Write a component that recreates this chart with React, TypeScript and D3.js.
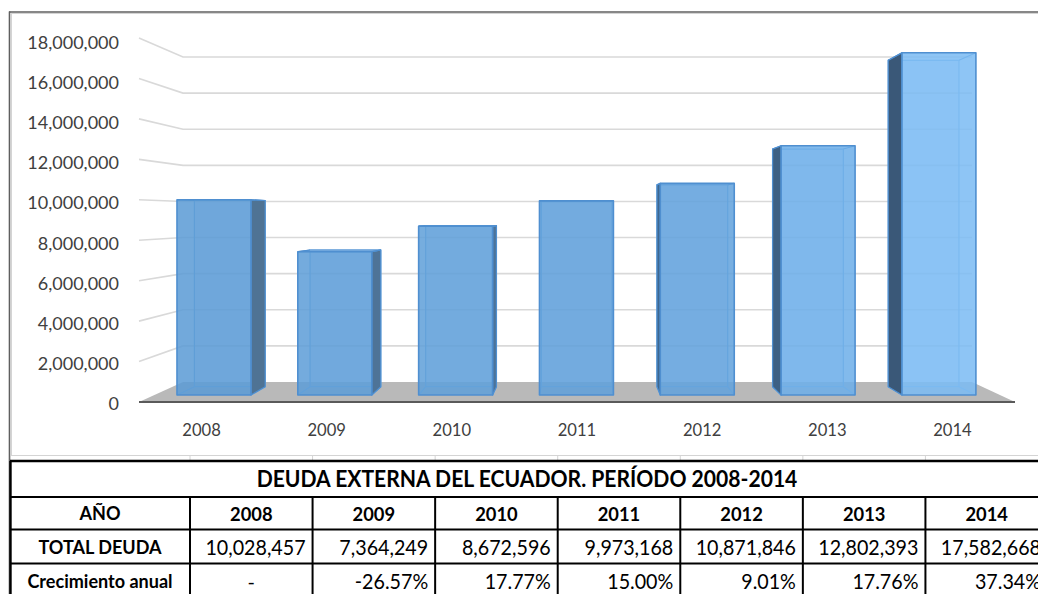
import React from 'react';
import * as d3 from 'd3';

// ---------- data ----------
const years = ['2008', '2009', '2010', '2011', '2012', '2013', '2014'];
const totalDeuda = [10028457, 7364249, 8672596, 9973168, 10871846, 12802393, 17582668];
const crecimiento: (number | null)[] = [null, -0.2657, 0.1777, 0.15, 0.0901, 0.1776, 0.3734];
const yTicks = [0, 2000000, 4000000, 6000000, 8000000, 10000000, 12000000, 14000000, 16000000, 18000000];
const tableTitle = 'DEUDA EXTERNA DEL ECUADOR. PERÍODO 2008-2014';
const rowLabels = ['AÑO', 'TOTAL DEUDA', 'Crecimiento anual'];

const W = 1038;
const H = 594;
const FONT = 'Lato, "Open Sans", sans-serif';

// ---------- 3D-ish projection (front plane z=0, back wall z=1) ----------
const n = years.length;
const frontX = d3.scaleLinear().domain([0, n]).range([139, 1015]);
const backX = d3.scaleLinear().domain([0, n]).range([183, 972]);
const frontY = d3.scaleLinear().domain([0, 18000000]).range([402, 38]);
const backY = d3.scaleLinear().domain([0, 18000000]).range([382, 57]);
const labelY = d3.scaleLinear().domain([0, 18000000]).range([403, 42]);

const proj = (p: number, v: number, z: number): [number, number] => [
  frontX(p) * (1 - z) + backX(p) * z,
  frontY(v) * (1 - z) + backY(v) * z,
];
const pts = (arr: [number, number][]) => arr.map((q) => q.join(',')).join(' ');

const BAR_P0 = 0.188;
const BAR_P1 = 0.8;
const Z_FRONT = 0.347;
const Z_BACK = 0.765;

const frontColor = d3
  .scaleLinear<string>()
  .domain([0, 4, 5, 6])
  .range(['#5b9bd5', '#62a2dc', '#6dafe9', '#7cbbf3']);
const sideColor = d3
  .scaleLinear<string>()
  .domain([0, 2, 4, 6])
  .range(['#4f7394', '#4d7399', '#3f6890', '#3a5878']);

const locale = d3.formatLocale({
  decimal: '.',
  thousands: ',',
  grouping: [3],
  currency: ['$', ''],
  minus: '-',
});
const fmtNum = locale.format(',');
const fmtPct = locale.format('.2%');

// table geometry
const colX = d3.scaleLinear().domain([0, n]).range([190, 1048]);
const tableLeft = 10;
const rowEdges = [461, 497, 529.5, 563.5, 598];

function Bar({ i, v }: { i: number; v: number }) {
  const p0 = i + BAR_P0;
  const p1 = i + BAR_P1;
  const f = (p: number, val: number) => proj(p, val, Z_FRONT);
  const b = (p: number, val: number) => proj(p, val, Z_BACK);
  const fbl = f(p0, 0), fbr = f(p1, 0), ftl = f(p0, v), ftr = f(p1, v);
  const bbl = b(p0, 0), bbr = b(p1, 0), btl = b(p0, v), btr = b(p1, v);
  const center = (p0 + p1) / 2;
  const vanish = n / 2;
  const edge = '#4f8fd0';
  const hidden = '#76aee3';
  const sideFace: [number, number][] =
    center < vanish - 0.2
      ? [fbr, ftr, btr, bbr]
      : center > vanish + 0.2
      ? [fbl, ftl, btl, bbl]
      : [];
  const topVisible = btl[1] < ftl[1];
  return (
    <g>
      <polygon points={pts([bbl, bbr, btr, btl])} fill="#9cc5ec" fillOpacity={0.25} stroke={hidden} strokeWidth={1.2} />
      <line x1={fbl[0]} y1={fbl[1]} x2={bbl[0]} y2={bbl[1]} stroke={hidden} strokeWidth={1.2} />
      <line x1={fbr[0]} y1={fbr[1]} x2={bbr[0]} y2={bbr[1]} stroke={hidden} strokeWidth={1.2} />
      {sideFace.length > 0 && (
        <polygon points={pts(sideFace)} fill={sideColor(i)} stroke={edge} strokeWidth={1.2} strokeLinejoin="round" />
      )}
      {topVisible && (
        <polygon points={pts([ftl, ftr, btr, btl])} fill="#8fbde8" stroke={edge} strokeWidth={1} />
      )}
      <line x1={ftl[0]} y1={ftl[1]} x2={btl[0]} y2={btl[1]} stroke={edge} strokeWidth={1.2} />
      <line x1={ftr[0]} y1={ftr[1]} x2={btr[0]} y2={btr[1]} stroke={edge} strokeWidth={1.2} />
      <polygon
        points={pts([fbl, fbr, ftr, ftl])}
        fill={frontColor(i)}
        fillOpacity={0.86}
        stroke={edge}
        strokeWidth={1.6}
        strokeLinejoin="round"
      />
    </g>
  );
}

function SText({
  x, y, sx = 1, anchor = 'middle', size, weight = 400, fill = '#000', children,
}: {
  x: number; y: number; sx?: number; anchor?: string; size: number; weight?: number; fill?: string; children: React.ReactNode;
}) {
  return (
    <text
      transform={`translate(${x},${y}) scale(${sx},1)`}
      textAnchor={anchor as any}
      dominantBaseline="central"
      fontFamily={FONT}
      fontSize={size}
      fontWeight={weight}
      fill={fill}
    >
      {children}
    </text>
  );
}

export default function App() {
  const gridTicks = yTicks.filter((t) => t > 0);
  const floor = [proj(0, 0, 0), proj(n, 0, 0), proj(n, 0, 1), proj(0, 0, 1)];
  const rowMid = (r: number) => (rowEdges[r] + rowEdges[r + 1]) / 2;

  return (
    <svg
      width={W}
      height={H}
      viewBox={`0 0 ${W} ${H}`}
      style={{ position: 'absolute', left: 0, top: 0, background: '#fff' }}
    >
      <rect x={0} y={0} width={W} height={H} fill="#fff" />

      {/* chart frame */}
      <rect x={11.5} y={13.5} width={W + 10} height={442} fill="none" stroke="#d4d4d4" strokeWidth={1} />
      <line x1={9} y1={12} x2={W} y2={12} stroke="#5f5f5f" strokeWidth={1.6} />
      <line x1={9.5} y1={11.5} x2={9.5} y2={H} stroke="#5f5f5f" strokeWidth={1.6} />
      {d3.range(0, n + 1).map((j) => (
        <line key={'sg' + j} x1={colX(j)} y1={455.5} x2={colX(j)} y2={461} stroke="#d4d4d4" strokeWidth={1} />
      ))}

      {/* left wall & back wall gridlines */}
      {gridTicks.map((t) => {
        const a = proj(0, t, 0);
        const b = proj(0, t, 1);
        const c = proj(n, t, 1);
        return (
          <polyline key={'g' + t} points={pts([a, b, c])} fill="none" stroke="#d9d9d9" strokeWidth={1.6} />
        );
      })}

      {/* floor */}
      <polygon points={pts(floor)} fill="#b9b9b9" />
      <line x1={floor[0][0]} y1={floor[0][1]} x2={floor[1][0]} y2={floor[1][1]} stroke="#5a5a5a" strokeWidth={2} />

      {/* bars */}
      {totalDeuda.map((v, i) => (
        <Bar key={years[i]} i={i} v={v} />
      ))}

      {/* y axis labels */}
      {yTicks.map((t) => (
        <SText key={'yl' + t} x={119} y={labelY(t)} anchor="end" size={18} sx={1} fill="#404040">
          {fmtNum(t)}
        </SText>
      ))}

      {/* x axis labels */}
      {years.map((yr, i) => (
        <SText key={'xl' + yr} x={frontX(i + 0.5)} y={429} size={17.5} sx={0.95} fill="#404040">
          {yr}
        </SText>
      ))}

      {/* ---------- table ---------- */}
      <rect x={tableLeft} y={rowEdges[0]} width={W} height={H} fill="#fff" />
      {rowEdges.slice(0, 4).map((y, r) => (
        <line key={'rl' + r} x1={tableLeft} y1={y} x2={W + 10} y2={y} stroke="#000" strokeWidth={r === 0 ? 2.6 : 2} />
      ))}
      <line x1={tableLeft + 0.5} y1={rowEdges[0]} x2={tableLeft + 0.5} y2={H} stroke="#000" strokeWidth={2.4} />
      {d3.range(0, n + 1).map((j) => (
        <line key={'cl' + j} x1={colX(j)} y1={rowEdges[1]} x2={colX(j)} y2={H} stroke="#000" strokeWidth={2} />
      ))}

      <SText x={527} y={rowMid(0)} size={22} weight={700} sx={0.96}>
        {tableTitle}
      </SText>

      {rowLabels.map((lab, r) => (
        <SText key={'lab' + r} x={(tableLeft + colX(0)) / 2} y={rowMid(r + 1)} size={19} weight={700} sx={0.95}>
          {lab}
        </SText>
      ))}

      {years.map((yr, j) => (
        <SText key={'hy' + yr} x={(colX(j) + colX(j + 1)) / 2} y={rowMid(1)} size={19.5} weight={700} sx={0.94}>
          {yr}
        </SText>
      ))}

      {totalDeuda.map((v, j) => (
        <SText key={'tv' + j} x={colX(j + 1) - 7} y={rowMid(2)} anchor="end" size={20.5} sx={0.96}>
          {fmtNum(v)}
        </SText>
      ))}

      {crecimiento.map((c, j) =>
        c === null ? (
          <SText key={'cv' + j} x={(colX(j) + colX(j + 1)) / 2} y={rowMid(3)} size={20}>
            -
          </SText>
        ) : (
          <SText key={'cv' + j} x={colX(j + 1) - 7} y={rowMid(3)} anchor="end" size={20.5} sx={0.96}>
            {fmtPct(c)}
          </SText>
        )
      )}
    </svg>
  );
}
